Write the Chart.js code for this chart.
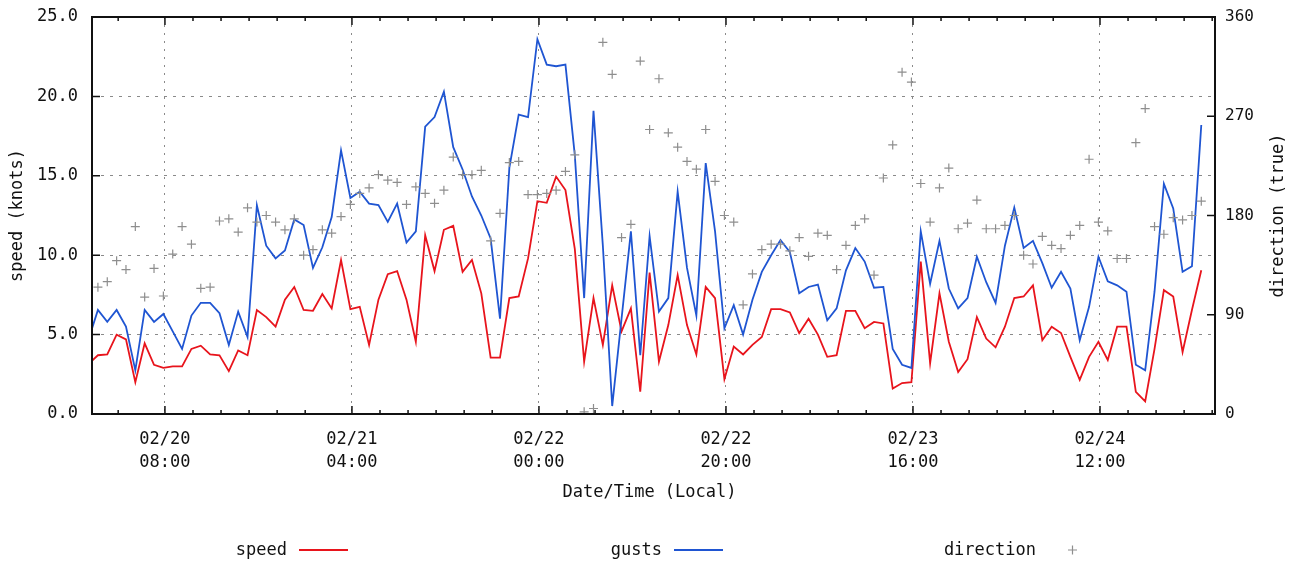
<!DOCTYPE html>
<html>
<head>
<meta charset="utf-8">
<script src="https://cdn.jsdelivr.net/npm/chart.js@4.4.1/dist/chart.umd.min.js"></script>
<style>
  html, body { margin: 0; padding: 0; background: #fff; }
  #wrap { position: relative; width: 1299px; height: 566px; }
</style>
</head>
<body>
<div id="wrap"><canvas id="wind"></canvas></div>
<script>
// hourly samples; hours counted from 02/20 00:00, first sample at 02/19 23:50
const FIRST_HOUR = -1 / 6;

const speed = [
  3.15, 3.7, 3.75, 5.0, 4.7, 2.0, 4.45, 3.1, 2.9, 3.0,
  3.0, 4.1, 4.3, 3.75, 3.7, 2.7, 4.0, 3.7, 6.55, 6.1,
  5.5, 7.2, 8.0, 6.55, 6.5, 7.55, 6.65, 9.7, 6.6, 6.75,
  4.35, 7.2, 8.8, 9.0, 7.2, 4.55, 11.25, 9.0, 11.6, 11.85,
  8.95, 9.7, 7.6, 3.55, 3.55, 7.3, 7.4, 9.8, 13.4, 13.3,
  14.95, 14.1, 10.4, 3.3, 7.3, 4.35, 8.1, 5.2, 6.65, 1.4,
  8.9, 3.3, 5.6, 8.75, 5.6, 3.75, 8.0, 7.3, 2.2, 4.25,
  3.75, 4.35, 4.85, 6.6, 6.6, 6.4, 5.1, 6.0, 5.0, 3.6,
  3.7, 6.5, 6.5, 5.4, 5.8, 5.7, 1.6, 1.95, 2.0, 9.6,
  3.2, 7.6, 4.55, 2.65, 3.45, 6.1, 4.75, 4.2, 5.5, 7.3,
  7.4, 8.1, 4.65, 5.5, 5.1, 3.6, 2.15, 3.6, 4.55, 3.4,
  5.5, 5.5, 1.4, 0.8, 4.1, 7.8, 7.4, 3.9, 6.55, 9.05
];

const gusts = [
  4.7, 6.55, 5.8, 6.55, 5.5, 2.75, 6.55, 5.8, 6.3, 5.2,
  4.1, 6.2, 7.0, 7.0, 6.35, 4.35, 6.45, 4.85, 13.15, 10.6,
  9.8, 10.3, 12.25, 11.9, 9.2, 10.5, 12.4, 16.6, 13.6, 14.0,
  13.25, 13.15, 12.1, 13.25, 10.8, 11.5, 18.1, 18.7, 20.3, 16.8,
  15.4, 13.7, 12.5, 11.05, 6.0, 15.5, 18.85, 18.7, 23.6, 22.0,
  21.9, 22.0, 16.3, 7.3, 19.1, 10.6, 0.5, 6.0, 11.5, 3.7,
  11.2, 6.45, 7.3, 14.0, 9.2, 6.2, 15.8, 11.5, 5.4, 6.85,
  5.0, 7.2, 8.95, 10.0, 10.95, 10.2, 7.6, 8.0, 8.15, 5.9,
  6.65, 9.05, 10.45, 9.6, 7.95, 8.0, 4.1, 3.1, 2.9, 11.5,
  8.2, 10.9, 7.9, 6.65, 7.3, 9.9, 8.3, 7.0, 10.6, 13.0,
  10.45, 10.9, 9.5, 7.95, 8.95, 7.9, 4.65, 6.75, 9.9, 8.35,
  8.1, 7.7, 3.1, 2.75, 7.7, 14.5, 12.95, 8.95, 9.3, 18.2
];

const direction = [
  null, 115, 120, 139, 131, 170, 106, 132, 107, 145,
  170, 154, 114, 115, 175, 177, 165, 187, 174, 180,
  174, 167, 177, 144, 149, 167, 164, 179, 190, 200,
  205, 217, 212, 210, 190, 206, 200, 191, 203, 233,
  217, 217, 221, 157, 182, 228, 229, 199, 199, 200,
  203, 220, 235, 2, 5, 337, 308, 160, 172, 320,
  258, 304, 255, 242, 229, 222, 258, 211, 180, 174,
  99, 127, 149, 154, 154, 148, 160, 143, 164, 162,
  131, 153, 171, 177, 126, 214, 244, 310, 301, 209,
  174, 205, 223, 168, 173, 194, 168, 168, 171, 180,
  144, 136, 161, 153, 150, 162, 171, 231, 174, 166,
  141, 141, 246, 277, 170, 163, 178, 176, 180, 193
];

const TICK_HOURS = [8, 28, 48, 68, 88, 108];
const TICK_LABELS = [
  ['02/20', '08:00'], ['02/21', '04:00'], ['02/22', '00:00'],
  ['02/22', '20:00'], ['02/23', '16:00'], ['02/24', '12:00']
];

const FONT = "'DejaVu Sans Mono', 'Liberation Mono', monospace";
const TXT = '#111';
const RED = '#e8141c';
const BLUE = '#1f55d2';
const GREY = '#8e8e8e';

Chart.defaults.font.family = FONT;
Chart.defaults.font.size = 17;
Chart.defaults.color = TXT;

const toPoints = arr => arr.map((v, i) => ({ x: FIRST_HOUR + i, y: v }));

// fixed box sizes so the plot area lands where the reference has it
const fixBox = (w, h) => s => {
    if (w) s.width = w;
    if (h) s.height = h;
    s.paddingTop = 0; s.paddingBottom = 0; s.paddingLeft = 0; s.paddingRight = 0;
};

// gnuplot-like frame, inward ticks, axis titles and legend
const decorations = {
    id: 'decorations',
    afterDatasetsDraw(chart) {
        const { ctx, chartArea: a, scales } = chart;
        const { x, y, y2 } = scales;
        ctx.save();
        ctx.strokeStyle = '#111';
        ctx.lineWidth = 1.5;
        ctx.beginPath();
        y.ticks.forEach(t => { const p = y.getPixelForValue(t.value); ctx.moveTo(a.left, p); ctx.lineTo(a.left + 8, p); });
        y2.ticks.forEach(t => { const p = y2.getPixelForValue(t.value); ctx.moveTo(a.right, p); ctx.lineTo(a.right - 8, p); });
        TICK_HOURS.forEach(h => {
            const p = x.getPixelForValue(h);
            ctx.moveTo(p, a.bottom); ctx.lineTo(p, a.bottom - 8);
            ctx.moveTo(p, a.top); ctx.lineTo(p, a.top + 8);
        });
        [-12, ...TICK_HOURS].forEach(m => {
            for (let k = 1; k <= 5; k++) {
                const h = m + 3 * k;
                if (h <= x.min || h >= x.max) continue;
                const p = x.getPixelForValue(h);
                ctx.moveTo(p, a.bottom); ctx.lineTo(p, a.bottom - 4);
                ctx.moveTo(p, a.top); ctx.lineTo(p, a.top + 4);
            }
        });
        ctx.stroke();

        ctx.lineWidth = 2;
        ctx.strokeRect(a.left, a.top, a.right - a.left, a.bottom - a.top);

        ctx.fillStyle = TXT;
        ctx.font = '17px ' + FONT;
        ctx.textBaseline = 'middle';
        ctx.textAlign = 'center';
        ctx.fillText('Date/Time (Local)', (a.left + a.right) / 2 - 4, 493);
        [[18, 'speed (knots)'], [1279, 'direction (true)']].forEach(([px, label]) => {
            ctx.save();
            ctx.translate(px, (a.top + a.bottom) / 2);
            ctx.rotate(-Math.PI / 2);
            ctx.fillText(label, 0, 0);
            ctx.restore();
        });

        // legend: label, then sample
        const items = [[287, 0], [662, 1], [1036, 2]];
        ctx.textAlign = 'right';
        items.forEach(([px, di]) => {
            const ds = chart.data.datasets[di];
            ctx.fillStyle = TXT;
            ctx.fillText(ds.label, px, 551);
            ctx.strokeStyle = ds.borderColor;
            ctx.beginPath();
            if (di < 2) {
                ctx.lineWidth = 1.8;
                ctx.moveTo(px + 12, 550); ctx.lineTo(px + 61, 550);
            } else {
                ctx.lineWidth = 1.2;
                ctx.moveTo(px + 32, 550); ctx.lineTo(px + 41, 550);
                ctx.moveTo(px + 36.5, 545.5); ctx.lineTo(px + 36.5, 554.5);
            }
            ctx.stroke();
        });
        ctx.restore();
    }
};

new Chart(document.getElementById('wind'), {
    type: 'line',
    data: {
        datasets: [
            { label: 'speed', data: toPoints(speed), yAxisID: 'y', borderColor: RED, borderWidth: 1.8, pointRadius: 0, tension: 0, order: 3 },
            { label: 'gusts', data: toPoints(gusts), yAxisID: 'y', borderColor: BLUE, borderWidth: 1.8, pointRadius: 0, tension: 0, order: 2 },
            { label: 'direction', data: toPoints(direction), yAxisID: 'y2', showLine: false, pointStyle: 'cross', pointRadius: 4.5, borderColor: GREY, borderWidth: 1.2, order: 1 }
        ]
    },
    options: {
        responsive: true, maintainAspectRatio: false, animation: false,
        layout: { padding: { top: 17, left: 0, right: 0, bottom: 0 } },
        plugins: { legend: { display: false }, tooltip: { enabled: false } },
        scales: {
            x: {
                type: 'linear', min: 0.2, max: 120.3,
                afterBuildTicks: s => { s.ticks = TICK_HOURS.map(v => ({ value: v })); },
                afterFit: fixBox(0, 152),
                ticks: { autoSkip: false, maxRotation: 0, padding: 14, font: { size: 17, lineHeight: 1.35 }, callback: v => TICK_LABELS[TICK_HOURS.indexOf(v)] },
                grid: { color: '#8a8a8a', lineWidth: 1, drawTicks: false },
                border: { display: false, dash: [2, 6] }
            },
            y: {
                position: 'left', min: 0, max: 25,
                afterFit: fixBox(92, 0),
                ticks: { stepSize: 5, padding: 14, callback: v => v.toFixed(1) },
                grid: { color: '#8a8a8a', lineWidth: 1, drawTicks: false },
                border: { display: false, dash: [3, 6] }
            },
            y2: {
                position: 'right', min: 0, max: 360,
                afterFit: fixBox(84, 0),
                ticks: { stepSize: 90, padding: 10, font: { size: 16 } },
                grid: { display: false, drawTicks: false },
                border: { display: false }
            }
        }
    },
    plugins: [decorations]
});
</script>
</body>
</html>
